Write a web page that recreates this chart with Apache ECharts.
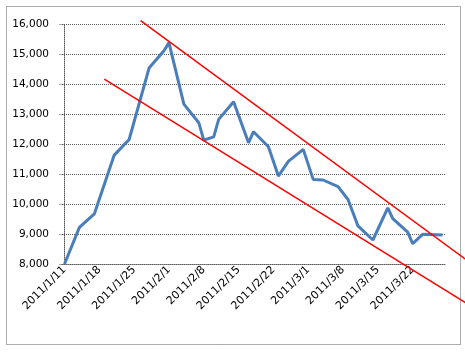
<!DOCTYPE html>
<html>
<head>
<meta charset="utf-8">
<script src="https://cdn.jsdelivr.net/npm/echarts@6/dist/echarts.min.js"></script>
<style>
  html, body { margin: 0; padding: 0; background: #fff; }
  #chart { width: 465px; height: 352px; }
</style>
</head>
<body>
<div id="chart"></div>
<script>
// trading days (month/day) and their prices
var dates = ['1/11', '1/14', '1/17', '1/21', '1/24', '1/28', '1/31', '2/1', '2/4', '2/7',
  '2/8', '2/10', '2/11', '2/14', '2/17', '2/18', '2/21', '2/23', '2/25', '2/28',
  '3/2', '3/4', '3/7', '3/9', '3/11', '3/14', '3/17', '3/18', '3/21', '3/22',
  '3/24', '3/28'];
var prices = [8000, 9220, 9670, 11630, 12150, 14530, 15110, 15380, 13330, 12710,
  12130, 12240, 12820, 13410, 12040, 12410, 11910, 10930, 11420, 11820,
  10820, 10800, 10580, 10150, 9270, 8800, 9870, 9510, 9060, 8680,
  8990, 8970];

// trend lines: [day index from 2011/1/11, value, day index, value]
var trendUpper = [15.3, 16110, 80.7, 8150];
var trendLower = [8.0, 14160, 80.7, 6700];

var yTicks = [8000, 16000, 1000];

// every calendar day 2011/1/11 .. 2011/3/28 for the category axis
var days = [];
var monthLen = [31, 28, 31];
for (var m = 1; m <= 3; m++) {
  for (var d = (m === 1 ? 11 : 1); d <= monthLen[m - 1]; d++) {
    if (m === 3 && d > 28) break;
    days.push(m + '/' + d);
  }
}
var lineData = days.map(function (k) {
  var i = dates.indexOf(k);
  return i >= 0 ? prices[i] : null;
});

var myChart = echarts.init(document.getElementById('chart'));

var gridLine = { color: '#5a5a5a', width: 1, type: [1, 1] };

myChart.setOption({
  backgroundColor: '#fff',
  animation: false,
  graphic: [{
    type: 'rect',
    shape: { x: 6.5, y: 6.5, width: 454, height: 338 },
    style: { fill: 'none', stroke: '#5a5a5a', lineWidth: 1, lineDash: [1, 1] },
    z: 0
  }],
  grid: { left: 62, right: 20, top: 24, bottom: 88 },
  xAxis: [{
    type: 'category',
    data: days,
    boundaryGap: true,
    axisLine: { lineStyle: gridLine },
    axisTick: { interval: 6, length: 5, lineStyle: gridLine },
    axisLabel: {
      interval: 6,
      rotate: 45,
      margin: 4,
      color: '#000',
      fontFamily: 'DejaVu Sans',
      fontSize: 11,
      formatter: function (v) { return '2011/' + v; }
    },
    splitLine: { show: false }
  }, {
    // hidden day-index axis for the trend lines (category centres at 0..76)
    type: 'value',
    min: -0.5,
    max: days.length - 0.5,
    show: false
  }],
  yAxis: {
    type: 'value',
    min: yTicks[0],
    max: yTicks[1],
    interval: yTicks[2],
    axisLine: { show: true, lineStyle: gridLine },
    axisTick: { show: true, length: 5, lineStyle: gridLine },
    axisLabel: {
      margin: 13,
      color: '#000',
      fontFamily: 'DejaVu Sans',
      fontSize: 10.5,
      formatter: function (v) { return v.toLocaleString('en-US'); }
    },
    splitLine: { lineStyle: gridLine }
  },
  series: [{
    type: 'line',
    data: lineData,
    connectNulls: true,
    showSymbol: false,
    lineStyle: { color: '#4A7EBB', width: 3 },
    itemStyle: { color: '#4A7EBB' },
    z: 3
  }, {
    // red channel lines, allowed to run past the plot area like the drawn shapes
    type: 'custom',
    xAxisIndex: 1,
    clip: false,
    data: [trendUpper, trendLower],
    renderItem: function (params, api) {
      var p1 = api.coord([api.value(0), api.value(1)]);
      var p2 = api.coord([api.value(2), api.value(3)]);
      return {
        type: 'line',
        shape: { x1: p1[0], y1: p1[1], x2: p2[0], y2: p2[1] },
        style: { stroke: '#FF0000', lineWidth: 1.5 }
      };
    },
    z: 4
  }]
});
</script>
</body>
</html>
